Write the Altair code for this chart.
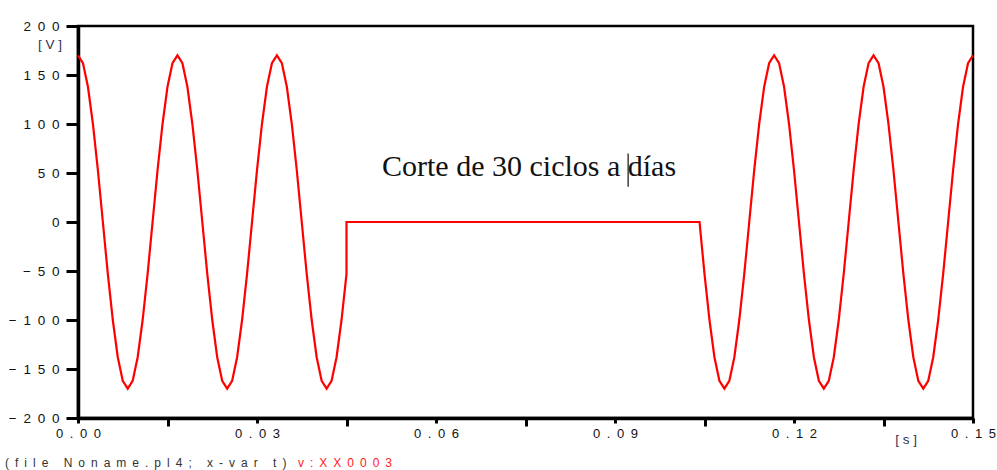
import altair as alt
import pandas as pd

DT = 1 / 1200  # sampling interval of the recorded waveform [s]

# Voltage samples before the interruption (samples 0..54)
v_before = [170, 162, 138, 100, 53, 0, -53, -100, -138, -162, -170, -162, -138, -100, -53, 0, 53, 100, 138, 162,
            170, 162, 138, 100, 53, 0, -53, -100, -138, -162, -170, -162, -138, -100, -53, 0, 53, 100, 138, 162,
            170, 162, 138, 100, 53, 0, -53, -100, -138, -162, -170, -162, -138, -100, -53]
# Voltage samples after the supply returns (samples 125..180)
v_after = [0, -53, -100, -138, -162, -170, -162, -138, -100, -53, 0, 53, 100, 138, 162,
           170, 162, 138, 100, 53, 0, -53, -100, -138, -162, -170, -162, -138, -100, -53, 0, 53, 100, 138, 162,
           170, 162, 138, 100, 53, 0, -53, -100, -138, -162, -170, -162, -138, -100, -53, 0, 53, 100, 138, 162,
           170]
first_after = 125

x_ticks = [0, 0.015, 0.03, 0.045, 0.06, 0.075, 0.09, 0.105, 0.12, 0.135, 0.15]
y_ticks = [-200, -150, -100, -50, 0, 50, 100, 150, 200]

note_text = "Corte de 30 ciclos a días"
footer_file = "(file Noname.pl4; x-var t)"
footer_var = "v:XX0003"

SP = "\u2002"


def spaced(s):
    return SP.join(list(s))


rows = []
for k, v in enumerate(v_before):
    rows.append((k * DT, v))
rows.append(((len(v_before) - 1) * DT, 0))  # voltage collapses to zero
for j, v in enumerate(v_after):
    rows.append(((first_after + j) * DT, v))
df = pd.DataFrame(rows, columns=["t", "v"])
df["i"] = range(len(df))

x_scale = alt.Scale(domain=[0, 0.15], nice=False, zero=False)
y_scale = alt.Scale(domain=[-200, 200], nice=False)

x_axis = alt.Axis(
    values=x_ticks, title=None, grid=False,
    domainColor="black", domainWidth=3.5,
    tickColor="black", tickWidth=3,
    tickSize={"condition": {"test": "round(datum.value*1000) % 30 != 0", "value": 8}, "value": 5},
    labelExpr="round(datum.value*1000) % 30 == 0 ? join(split(format(datum.value, '.2f'), ''), '\u2002') : ''",
    labelFont="Liberation Sans", labelFontSize=13, labelColor="#111",
    labelPadding=4, labelFlush=False, labelOverlap=False,
)
y_axis = alt.Axis(
    values=y_ticks, title=None, grid=False,
    domainColor="black", domainWidth=3.5,
    tickColor="black", tickWidth=3, tickSize=12,
    labelExpr="join(split(format(datum.value, 'd'), ''), '\u2002')",
    labelFont="Liberation Sans", labelFontSize=13.5, labelColor="#111",
    labelPadding=7, labelFlush=False, labelOverlap=False,
)

line = alt.Chart(df).mark_line(color="#ff0000", strokeWidth=2.2).encode(
    x=alt.X("t:Q", scale=x_scale, axis=x_axis),
    y=alt.Y("v:Q", scale=y_scale, axis=y_axis),
    order="i:Q",
)

note = alt.Chart(pd.DataFrame({"t": [0.0756], "v": [47], "s": [note_text]})).mark_text(
    font="Liberation Serif", fontSize=30, align="center", baseline="alphabetic", color="#111"
).encode(x=alt.X("t:Q", scale=x_scale), y=alt.Y("v:Q", scale=y_scale), text="s:N")

cursor = alt.Chart(pd.DataFrame({"t": [0.0922], "v": [36], "v2": [70]})).mark_rule(
    color="#111", strokeWidth=1.2
).encode(x=alt.X("t:Q", scale=x_scale), y=alt.Y("v:Q", scale=y_scale), y2="v2:Q")

unit_v = alt.Chart(pd.DataFrame({"s": ["[ V ]"]})).mark_text(
    font="Liberation Sans", fontSize=13.5, align="center", baseline="middle", color="#2c3550"
).encode(x=alt.value(-28), y=alt.value(19), text="s:N")

unit_s = alt.Chart(pd.DataFrame({"s": ["[ s ]"]})).mark_text(
    font="Liberation Sans", fontSize=13.5, align="center", baseline="middle", color="#2c3550"
).encode(x=alt.value(828), y=alt.value(414), text="s:N")

foot1 = alt.Chart(pd.DataFrame({"s": [spaced(footer_file)]})).mark_text(
    font="Liberation Sans", fontSize=12, align="left", baseline="middle", color="#333"
).encode(x=alt.value(-73), y=alt.value(437), text="s:N")

foot2 = alt.Chart(pd.DataFrame({"s": [spaced(footer_var)]})).mark_text(
    font="Liberation Sans", fontSize=12, align="left", baseline="middle", color="#ff2020"
).encode(x=alt.value(220), y=alt.value(437), text="s:N")

chart = alt.layer(line, note, cursor, unit_v, unit_s, foot1, foot2).properties(
    width=895, height=392,
    autosize=alt.AutoSizeParams(type="none"),
    padding={"left": 78, "top": 26, "right": 24, "bottom": 52},
    background="white",
).configure_view(stroke="black", strokeWidth=2.5)

chart.save("out.html", embed_options={"renderer": "svg", "actions": False})
